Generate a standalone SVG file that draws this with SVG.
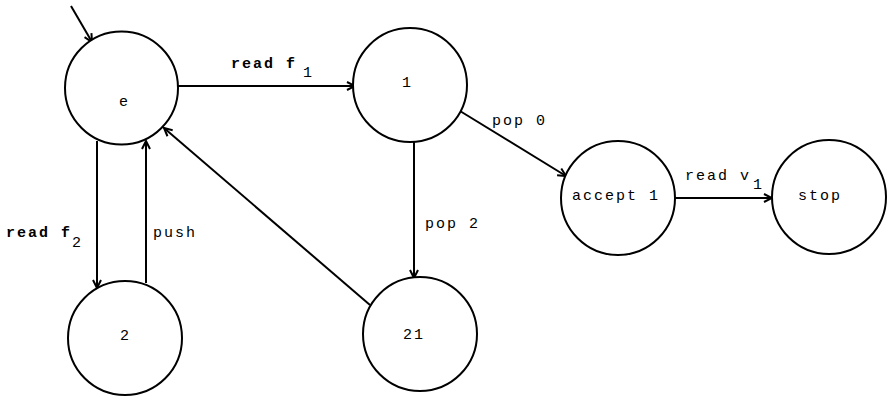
<svg xmlns="http://www.w3.org/2000/svg" width="887" height="397" viewBox="0 0 887 397">
<style>
.node circle{fill:#fff;stroke:#000;stroke-width:2}
text{font-family:"Liberation Mono","DejaVu Sans Mono",monospace;font-size:15px;fill:#000;letter-spacing:2px}
.b{font-weight:bold}
#edges line{stroke:#000;stroke-width:2;marker-end:url(#arr)}
</style>
<defs>
<marker id="arr" viewBox="0 0 10 10" refX="9" refY="5" markerWidth="10" markerHeight="10" markerUnits="userSpaceOnUse" orient="auto">
<path d="M1,1 L9,5 L1,9" fill="none" stroke="#000" stroke-width="2"/>
</marker>
</defs>
<g id="edges">
<line x1="71" y1="6" x2="92" y2="42"/>
<line x1="178" y1="86" x2="355" y2="86"/>
<line x1="370" y1="305" x2="164" y2="128"/>
<line x1="97" y1="141" x2="97" y2="288"/>
<line x1="146" y1="283" x2="146" y2="141"/>
<line x1="414" y1="142" x2="414" y2="278"/>
<line x1="460" y1="111" x2="566" y2="176"/>
<line x1="675" y1="198" x2="772" y2="198"/>
<text class="b" x="231" y="68">read f</text>
<text x="303" y="77">1</text>
<text x="492" y="125">pop 0</text>
<text x="425" y="228">pop 2</text>
<text class="b" x="6" y="237">read f</text>
<text x="72" y="247">2</text>
<text x="153" y="237">push</text>
<text x="685" y="180">read v</text>
<text x="753" y="189">1</text>
</g>
<g id="node-e" class="node"><circle cx="121.5" cy="88" r="56.5"/><text x="119" y="106">e</text></g>
<g id="node-1" class="node"><circle cx="410" cy="85" r="57"/><text x="402" y="87">1</text></g>
<g id="node-accept1" class="node"><circle cx="618" cy="198" r="57"/><text x="572" y="200">accept 1</text></g>
<g id="node-stop" class="node"><circle cx="829" cy="197" r="57"/><text x="798" y="200">stop</text></g>
<g id="node-2" class="node"><circle cx="125" cy="338" r="57"/><text x="120" y="340">2</text></g>
<g id="node-21" class="node"><circle cx="420" cy="334" r="57"/><text x="403" y="339">21</text></g>
</svg>
